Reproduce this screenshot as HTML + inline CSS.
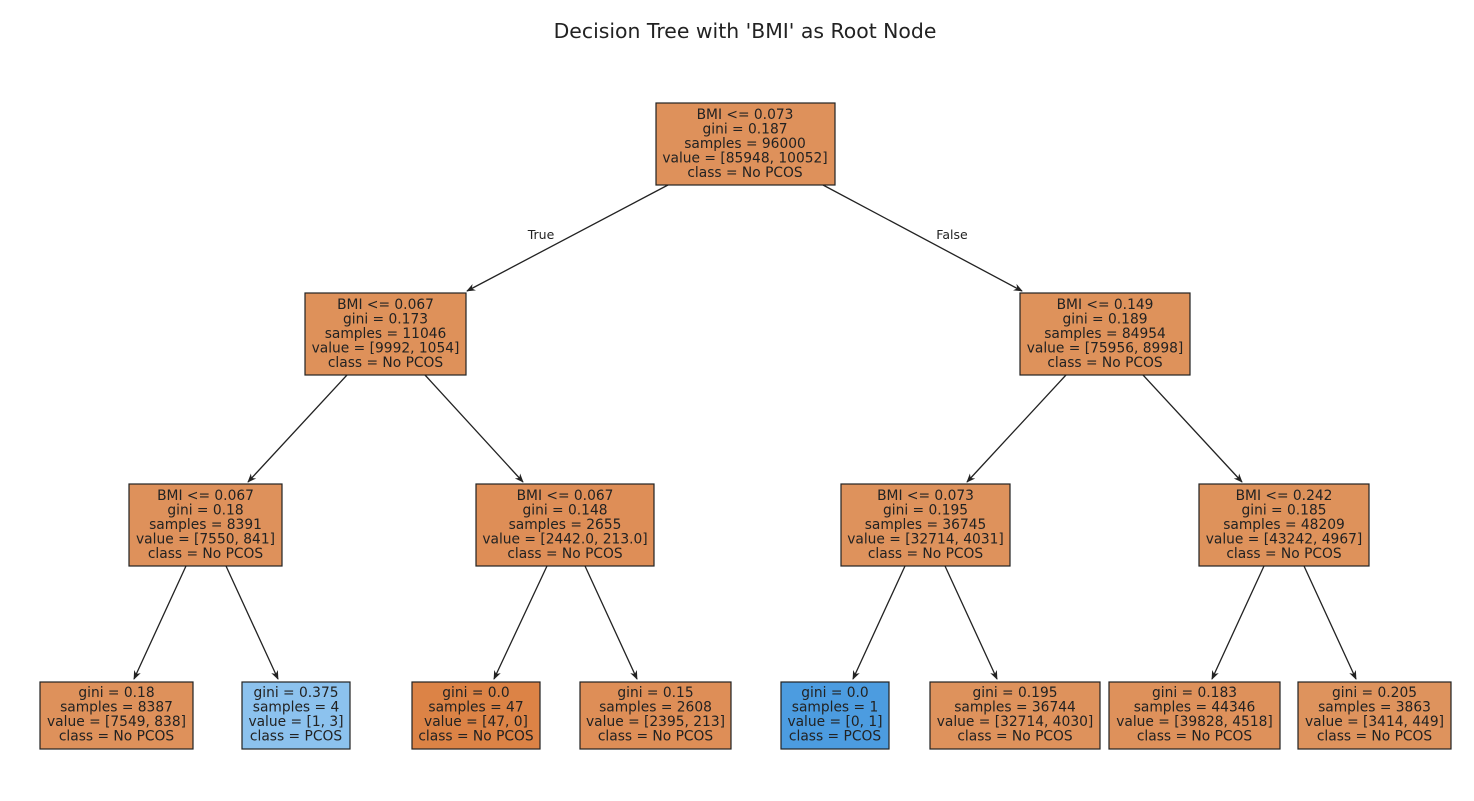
<!DOCTYPE html>
<html><head><meta charset="utf-8"><style>
html,body{margin:0;padding:0;background:#fff;}
svg text{font-family:"DejaVu Sans","Liberation Sans",sans-serif;fill:#222;}
</style></head><body>
<svg width="1474" height="796" viewBox="0 0 1474 796" xmlns="http://www.w3.org/2000/svg">
<defs><marker id="a" viewBox="0 0 10 10" refX="9" refY="5" markerWidth="7" markerHeight="7" orient="auto"><path d="M0,1 L10,5 L0,9 L3,5 z" fill="#222"/></marker></defs>
<text x="745" y="38" font-size="20.4" text-anchor="middle">Decision Tree with 'BMI' as Root Node</text>
<g stroke="#222" stroke-width="1.3" marker-end="url(#a)">
<line x1="668" y1="185" x2="467" y2="291"/>
<line x1="823" y1="185" x2="1022" y2="291"/>
<line x1="347" y1="375" x2="248" y2="482"/>
<line x1="425" y1="375" x2="523" y2="482"/>
<line x1="1066" y1="375" x2="967" y2="482"/>
<line x1="1143" y1="375" x2="1242" y2="482"/>
<line x1="186" y1="566" x2="134" y2="679"/>
<line x1="226" y1="566" x2="278" y2="679"/>
<line x1="547" y1="566" x2="494" y2="679"/>
<line x1="585" y1="566" x2="637" y2="679"/>
<line x1="905" y1="566" x2="853" y2="679"/>
<line x1="945" y1="566" x2="997" y2="679"/>
<line x1="1264" y1="566" x2="1212" y2="679"/>
<line x1="1304" y1="566" x2="1356" y2="679"/>
</g>
<text x="541" y="239" font-size="12.5" text-anchor="middle">True</text>
<text x="952" y="239" font-size="12.5" text-anchor="middle">False</text>
<g stroke="#222" stroke-width="1.2">
<rect x="656" y="103" width="179" height="82" fill="#de915b"/>
<rect x="305" y="293" width="161" height="82" fill="#de915a"/>
<rect x="1020" y="293" width="170" height="82" fill="#de925b"/>
<rect x="129" y="484" width="153" height="82" fill="#de915b"/>
<rect x="476" y="484" width="178" height="82" fill="#de8e57"/>
<rect x="841" y="484" width="169" height="82" fill="#de925c"/>
<rect x="1199" y="484" width="170" height="82" fill="#de925b"/>
<rect x="40" y="682" width="153" height="67" fill="#de915b"/>
<rect x="242" y="682" width="108" height="67" fill="#8cc2ee"/>
<rect x="412" y="682" width="128" height="67" fill="#dc8346"/>
<rect x="580" y="682" width="151" height="67" fill="#de8e57"/>
<rect x="781" y="682" width="108" height="67" fill="#4c9ce0"/>
<rect x="930" y="682" width="170" height="67" fill="#de925c"/>
<rect x="1109" y="682" width="171" height="67" fill="#de915b"/>
<rect x="1298" y="682" width="153" height="67" fill="#de935d"/>
</g>
<g font-size="13.8" text-anchor="middle">
<text x="745" y="119">BMI &lt;= 0.073</text><text x="745" y="133.5">gini = 0.187</text><text x="745" y="148">samples = 96000</text><text x="745" y="162.5">value = [85948, 10052]</text><text x="745" y="177">class = No PCOS</text>
<text x="385.5" y="309">BMI &lt;= 0.067</text><text x="385.5" y="323.5">gini = 0.173</text><text x="385.5" y="338">samples = 11046</text><text x="385.5" y="352.5">value = [9992, 1054]</text><text x="385.5" y="367">class = No PCOS</text>
<text x="1105" y="309">BMI &lt;= 0.149</text><text x="1105" y="323.5">gini = 0.189</text><text x="1105" y="338">samples = 84954</text><text x="1105" y="352.5">value = [75956, 8998]</text><text x="1105" y="367">class = No PCOS</text>
<text x="205.5" y="500">BMI &lt;= 0.067</text><text x="205.5" y="514.5">gini = 0.18</text><text x="205.5" y="529">samples = 8391</text><text x="205.5" y="543.5">value = [7550, 841]</text><text x="205.5" y="558">class = No PCOS</text>
<text x="565" y="500">BMI &lt;= 0.067</text><text x="565" y="514.5">gini = 0.148</text><text x="565" y="529">samples = 2655</text><text x="565" y="543.5">value = [2442.0, 213.0]</text><text x="565" y="558">class = No PCOS</text>
<text x="925.5" y="500">BMI &lt;= 0.073</text><text x="925.5" y="514.5">gini = 0.195</text><text x="925.5" y="529">samples = 36745</text><text x="925.5" y="543.5">value = [32714, 4031]</text><text x="925.5" y="558">class = No PCOS</text>
<text x="1284" y="500">BMI &lt;= 0.242</text><text x="1284" y="514.5">gini = 0.185</text><text x="1284" y="529">samples = 48209</text><text x="1284" y="543.5">value = [43242, 4967]</text><text x="1284" y="558">class = No PCOS</text>
<text x="116.5" y="697">gini = 0.18</text><text x="116.5" y="711.5">samples = 8387</text><text x="116.5" y="726">value = [7549, 838]</text><text x="116.5" y="740.5">class = No PCOS</text>
<text x="296" y="697">gini = 0.375</text><text x="296" y="711.5">samples = 4</text><text x="296" y="726">value = [1, 3]</text><text x="296" y="740.5">class = PCOS</text>
<text x="476" y="697">gini = 0.0</text><text x="476" y="711.5">samples = 47</text><text x="476" y="726">value = [47, 0]</text><text x="476" y="740.5">class = No PCOS</text>
<text x="655.5" y="697">gini = 0.15</text><text x="655.5" y="711.5">samples = 2608</text><text x="655.5" y="726">value = [2395, 213]</text><text x="655.5" y="740.5">class = No PCOS</text>
<text x="835" y="697">gini = 0.0</text><text x="835" y="711.5">samples = 1</text><text x="835" y="726">value = [0, 1]</text><text x="835" y="740.5">class = PCOS</text>
<text x="1015" y="697">gini = 0.195</text><text x="1015" y="711.5">samples = 36744</text><text x="1015" y="726">value = [32714, 4030]</text><text x="1015" y="740.5">class = No PCOS</text>
<text x="1194.5" y="697">gini = 0.183</text><text x="1194.5" y="711.5">samples = 44346</text><text x="1194.5" y="726">value = [39828, 4518]</text><text x="1194.5" y="740.5">class = No PCOS</text>
<text x="1374.5" y="697">gini = 0.205</text><text x="1374.5" y="711.5">samples = 3863</text><text x="1374.5" y="726">value = [3414, 449]</text><text x="1374.5" y="740.5">class = No PCOS</text>
</g>
</svg>
</body></html>
